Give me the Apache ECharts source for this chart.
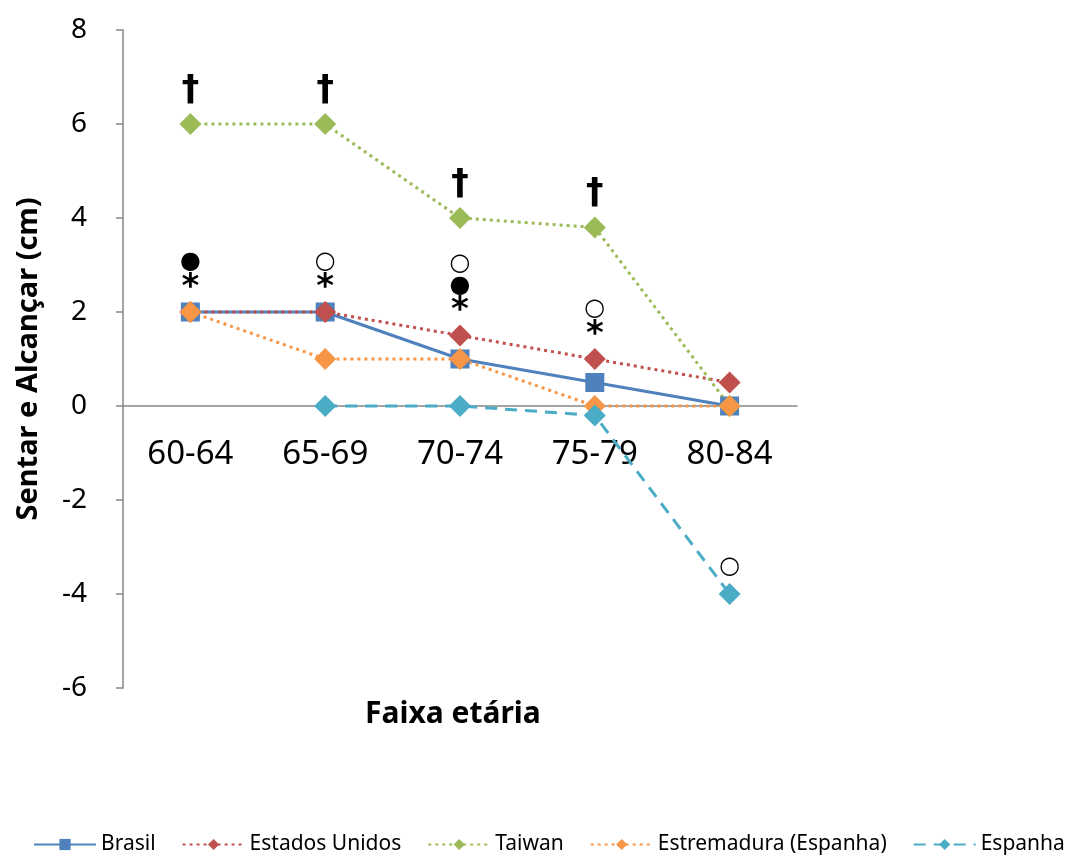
<!DOCTYPE html>
<html>
<head>
<meta charset="utf-8">
<script src="https://cdn.jsdelivr.net/npm/echarts@6/dist/echarts.min.js"></script>
<style>
  html, body { margin: 0; padding: 0; background: #fff; }
  #chart { width: 1077px; height: 861px; }
</style>
</head>
<body>
<div id="chart"></div>
<script>
// faixas etárias
const categories = ['60-64', '65-69', '70-74', '75-79', '80-84'];
const yTicks = [-6, -4, -2, 0, 2, 4, 6, 8];

const brasil = [2, 2, 1, 0.5, 0];
const estadosUnidos = [2, 2, 1.5, 1, 0.5];
const taiwan = [6, 6, 4, 3.8, 0];
const estremadura = [2, 1, 1, 0, 0];
const espanha = [null, 0, 0, -0.2, -4];

// marcas de significância
const usAnnot = ['●\n*', '○\n*', '○\n●\n*', '○\n*', ''];
const taiwanAnnot = ['†', '†', '†', '†', ''];
const espanhaAnnot = ['', '', '', '', '○'];

const font = 'Noto Sans';

const annotRich = {
  s: { fontFamily: 'DejaVu Sans', fontSize: 34, fontWeight: 'bold', lineHeight: 30, color: '#000' },
  c: { fontFamily: 'DejaVu Sans', fontSize: 24, lineHeight: 22, color: '#000' },
  d: { fontFamily: 'DejaVu Sans', fontSize: 35, fontWeight: 'bold', lineHeight: 34, color: '#000' }
};

function toRich(txt) {
  return txt.split('\n').map(ch => {
    if (ch === '*') return '{s|*}';
    if (ch === '†') return '{d|†}';
    return '{c|' + ch + '}';
  }).join('\n');
}

function withLabels(values, annot, dist) {
  return values.map((v, i) => {
    if (!annot[i]) return v;
    return {
      value: v,
      label: {
        show: true,
        position: 'top',
        distance: dist,
        formatter: toRich(annot[i]),
        rich: annotRich
      }
    };
  });
}

const chart = echarts.init(document.getElementById('chart'));
const option = {
  animation: false,
  grid: { left: 123, right: 280, top: 30, bottom: 173, outerBoundsMode: 'none' },
  legend: {
    left: 28,
    top: 829,
    itemWidth: 62,
    itemHeight: 14,
    itemGap: 26,
    textStyle: { fontFamily: font, fontSize: 21, color: '#000' },
    data: ['Brasil', 'Estados Unidos', 'Taiwan', 'Estremadura (Espanha)', 'Espanha']
  },
  graphic: [{
    type: 'text',
    left: 365,
    top: 699,
    style: { text: 'Faixa etária', fontFamily: font, fontSize: 30, fontWeight: 'bold', fill: '#000' }
  }],
  xAxis: {
    type: 'category',
    data: categories,
    boundaryGap: true,
    axisLine: { onZero: true, lineStyle: { color: '#868686', width: 1.5 } },
    axisTick: { show: false },
    // rótulos junto à linha do zero
    axisLabel: { margin: -250, fontFamily: font, fontSize: 33, color: '#000' },
    splitLine: { show: false }
  },
  yAxis: {
    type: 'value',
    min: yTicks[0],
    max: yTicks[yTicks.length - 1],
    interval: 2,
    name: 'Sentar e Alcançar (cm)',
    nameLocation: 'middle',
    nameRotate: 90,
    nameGap: 80,
    nameTextStyle: { fontFamily: font, fontSize: 29, fontWeight: 'bold', color: '#000' },
    axisLine: { show: true, lineStyle: { color: '#868686', width: 1.5 } },
    axisTick: { show: true, length: 7, lineStyle: { color: '#868686', width: 1.5 } },
    axisLabel: { margin: 36, fontFamily: font, fontSize: 28, color: '#000' },
    splitLine: { show: false }
  },
  series: [
    {
      name: 'Brasil',
      type: 'line',
      data: brasil,
      symbol: 'rect',
      symbolSize: 19,
      itemStyle: { color: '#4F81BD' },
      lineStyle: { color: '#4F81BD', width: 3, type: 'solid' }
    },
    {
      name: 'Estados Unidos',
      type: 'line',
      data: withLabels(estadosUnidos, usAnnot, -2),
      symbol: 'diamond',
      symbolSize: 22,
      itemStyle: { color: '#C0504D' },
      lineStyle: { color: '#C0504D', width: 3, type: [3, 4] }
    },
    {
      name: 'Taiwan',
      type: 'line',
      data: withLabels(taiwan, taiwanAnnot, 5),
      symbol: 'diamond',
      symbolSize: 22,
      itemStyle: { color: '#9BBB59' },
      lineStyle: { color: '#9BBB59', width: 3, type: [3, 4] }
    },
    {
      name: 'Estremadura (Espanha)',
      type: 'line',
      data: estremadura,
      symbol: 'diamond',
      symbolSize: 22,
      itemStyle: { color: '#F79646' },
      lineStyle: { color: '#F79646', width: 3, type: [3, 4] }
    },
    {
      name: 'Espanha',
      type: 'line',
      data: withLabels(espanha, espanhaAnnot, 5),
      symbol: 'diamond',
      symbolSize: 22,
      itemStyle: { color: '#4BACC6' },
      lineStyle: { color: '#4BACC6', width: 3, type: [12, 8] }
    }
  ]
};
chart.setOption(option);
</script>
</body>
</html>
